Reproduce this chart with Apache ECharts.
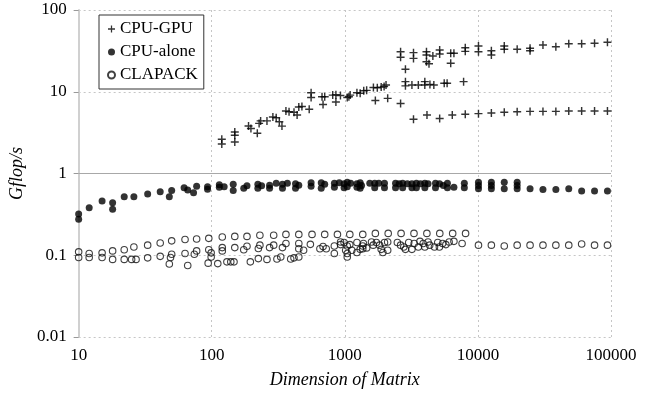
<!DOCTYPE html>
<html>
<head>
<meta charset="utf-8">
<script src="https://cdn.jsdelivr.net/npm/echarts@6/dist/echarts.min.js"></script>
<style>
  html, body { margin: 0; padding: 0; background: #fff; }
  #chart { width: 649px; height: 397px; }
</style>
</head>
<body>
<div id="chart"></div>
<script>
// Matrix dimension vs. performance (Gflop/s), log-log scatter.

const xTickLabels = ['10', '100', '1000', '10000', '100000'];
const yTickLabels = ['0.01', '0.1', '1', '10', '100'];

// CPU-GPU measurements
const gpuDim = [
  119, 119, 149, 149, 149, 189, 197, 220, 227, 233, 260, 288, 305, 322, 337,
  361, 381, 415, 438, 451, 476, 540, 558, 558, 674, 706, 686, 811, 857, 927,
  857, 1043, 1097, 1073, 1233, 1304, 1387, 1459, 1696, 1640, 1754, 1876, 1973,
  2040, 2099,
  2624, 2624, 2854, 3281, 3281, 4107, 4107, 4107, 4290, 4587, 5160, 5160,
  6246, 6603, 6246, 8035, 8035, 10097, 10097, 12622, 12622, 15777, 15777,
  19722, 24652, 24652, 30815, 38519, 48148, 60185, 75232, 94040,
  2624, 2854, 2854, 3193, 3567, 3991, 3991, 4360, 4665, 5583, 5870, 7806,
  3281, 4143, 5160, 6418, 8035, 10097, 12622, 15777, 19722, 24652, 30815,
  38519, 48148, 60185, 75232, 94040
];
const gpuRate = [
  2.62, 2.30, 3.22, 2.93, 2.43, 3.82, 3.55, 3.10, 4.10, 4.40, 4.40, 4.90, 4.80, 4.30, 3.80,
  5.80, 5.70, 5.60, 5.20, 6.50, 6.60, 6.10, 9.70, 8.50, 8.70, 8.70, 7.00, 9.10, 9.20, 9.00,
  7.50, 8.50, 9.10, 8.70, 9.70, 9.60, 10.3, 10.4, 7.80, 11.3, 11.2, 11.4, 11.6,
  12.1, 8.30,
  30.9, 26.4, 18.8, 30.1, 25.6, 30.9, 28.1, 23.3, 22.0, 27.4, 32.4, 29.0,
  29.5, 29.5, 22.3, 34.6, 31.2, 36.3, 30.9, 31.8, 28.1, 36.3, 33.1,
  33.1, 34.0, 31.8, 37.4, 35.6, 38.7, 38.7, 39.2, 40.3,
  7.2, 13.3, 11.8, 12.1, 12.1, 13.3, 12.1, 12.3, 12.1, 12.7, 12.7, 13.3,
  4.6, 5.2, 4.7, 5.2, 5.3, 5.4, 5.5, 5.6, 5.7, 5.75, 5.75,
  5.75, 5.8, 5.8, 5.8, 5.8
];

// CPU-alone measurements
const cpuDim = [
  10, 10, 12, 15, 18, 18, 22, 26, 33, 41, 48, 50, 62, 66, 73, 77,
  93, 93, 114, 114, 124, 145, 145, 174, 184, 222, 222, 237, 272, 272, 305,
  340, 340, 370, 426, 426, 451, 558, 558, 665, 665, 706, 835, 835, 908,
  987, 987, 1043, 1043, 1106, 1233, 1233, 1304, 1304, 1335, 1540, 1677, 1677,
  1800, 1986, 1986, 2405, 2405, 2560, 2720, 2720, 2950, 3193, 3193, 3450, 3450,
  3700, 3991, 3991, 4219, 4800, 4800, 5150, 5500, 5900, 5900, 6603, 7906, 7906,
  10097, 10097, 10097, 12622, 12622, 12622, 15777, 15777, 19722, 19722, 19722,
  24652, 30815, 38519, 48148, 60185, 75232, 94040
];
const cpuRate = [
  0.32, 0.275, 0.38, 0.46, 0.44, 0.365, 0.52, 0.52, 0.56, 0.60, 0.52, 0.62, 0.67, 0.63, 0.58, 0.70,
  0.69, 0.64, 0.73, 0.68, 0.69, 0.74, 0.62, 0.66, 0.71, 0.74, 0.66, 0.71, 0.72, 0.66, 0.76,
  0.74, 0.66, 0.76, 0.75, 0.66, 0.72, 0.77, 0.70, 0.77, 0.66, 0.74, 0.76, 0.68, 0.77,
  0.748, 0.668, 0.78, 0.69, 0.76, 0.75, 0.68, 0.77, 0.66, 0.713, 0.76, 0.76, 0.668,
  0.76, 0.76, 0.668, 0.76, 0.668, 0.748, 0.76, 0.668, 0.748, 0.748, 0.668, 0.76, 0.668,
  0.748, 0.76, 0.668, 0.748, 0.76, 0.668, 0.748, 0.713, 0.76, 0.668, 0.68, 0.76, 0.668,
  0.783, 0.713, 0.65, 0.783, 0.713, 0.65, 0.783, 0.65, 0.783, 0.713, 0.65,
  0.65, 0.637, 0.637, 0.65, 0.61, 0.61, 0.61
];

// CLAPACK measurements
const lapDim = [
  10, 10, 12, 12, 15, 15, 18, 18, 22, 22, 26, 25, 27, 33, 33, 41, 41,
  50, 50, 49, 48, 63, 63, 66, 77, 77, 74, 95, 95, 99, 99, 94, 111,
  120, 120, 120, 130, 139, 147, 149, 149, 174, 184, 184, 195, 224, 224,
  230, 230, 260, 272, 292, 292, 309, 330, 340, 361, 361, 392, 415, 451,
  451, 451, 451, 490, 551, 567, 650, 686, 725, 706, 834, 834, 880, 929, 929,
  1043, 1043, 1090, 1090, 1233, 1364, 1364, 1364,
  1696, 2118, 2647, 3309, 4136, 5170, 6462, 8078,
  987, 1043, 1015, 1129, 1233, 1304, 1380, 1459, 1587, 1634, 1726, 1826, 1876,
  1931, 1986, 2099, 2099, 2482, 2624, 2774, 2854, 3020, 3193, 3320, 3567, 3669,
  3881, 3991, 4219, 4342, 4716, 4990, 5135, 5430, 5745, 6078, 6603, 7606,
  10097, 12622, 15777, 19722, 24652, 30815, 38519, 48148, 60185, 75232, 94040
];
const lapRate = [
  0.110, 0.094, 0.105, 0.094, 0.107, 0.094, 0.113, 0.089, 0.117, 0.089, 0.126, 0.089, 0.089, 0.133, 0.093, 0.141, 0.097,
  0.150, 0.103, 0.094, 0.078, 0.156, 0.105, 0.075, 0.158, 0.113, 0.103, 0.161, 0.117, 0.107, 0.095, 0.080, 0.079,
  0.167, 0.124, 0.113, 0.083, 0.083, 0.083, 0.170, 0.124, 0.117, 0.170, 0.129, 0.083, 0.121, 0.091,
  0.176, 0.133, 0.089, 0.124, 0.176, 0.133, 0.090, 0.095, 0.124, 0.180, 0.139, 0.090, 0.093, 0.095,
  0.180, 0.139, 0.120, 0.115, 0.136, 0.180, 0.120, 0.128, 0.120, 0.180, 0.130, 0.105, 0.180, 0.145, 0.135,
  0.105, 0.095, 0.180, 0.135, 0.108, 0.180, 0.130, 0.120,
  0.185, 0.185, 0.185, 0.185, 0.185, 0.185, 0.185, 0.185,
  0.143, 0.130, 0.115, 0.115, 0.143, 0.118, 0.139, 0.123, 0.145, 0.133, 0.143, 0.133, 0.118,
  0.108, 0.143, 0.145, 0.115, 0.143, 0.133, 0.126, 0.118, 0.143, 0.118, 0.139, 0.126, 0.148,
  0.139, 0.126, 0.145, 0.133, 0.126, 0.143, 0.126, 0.139, 0.135, 0.145, 0.148, 0.139,
  0.133, 0.133, 0.130, 0.133, 0.133, 0.133, 0.133, 0.133, 0.137, 0.133, 0.133
];

const pairs = (xs, ys) => xs.map((x, i) => [x, ys[i]]);

const SERIF = '"Liberation Serif", "Times New Roman", serif';
const INK = '#000';
// plus-shaped marker with slightly heavy arms
const PLUS = 'path://M4.1,0h1.8v4.1h4.1v1.8h-4.1v4.1h-1.8v-4.1h-4.1v-1.8h4.1z';

function tickFormatter(labels) {
  return function (v) {
    for (const s of labels) {
      const n = Number(s);
      if (Math.abs(v - n) <= n * 1e-6) return s;
    }
    return '';
  };
}

const gridLine = { show: true, lineStyle: { color: '#c6c6c6', type: [2, 3], width: 1 } };

const chart = echarts.init(document.getElementById('chart'), null, { renderer: 'canvas' });

chart.setOption({
  animation: false,
  backgroundColor: '#fff',
  grid: { left: 63, right: 38, top: 10, bottom: 60 },
  legend: {
    orient: 'vertical',
    left: 99,
    top: 15,
    padding: [4, 6, 4, 8],
    itemGap: 3,
    itemWidth: 7,
    itemHeight: 7,
    borderColor: '#333',
    borderWidth: 1,
    backgroundColor: '#fff',
    textStyle: { fontFamily: SERIF, fontSize: 17, color: INK, lineHeight: 20 },
    data: [
      { name: 'CPU-GPU', icon: PLUS },
      { name: 'CPU-alone', icon: 'circle' },
      { name: 'CLAPACK', icon: 'circle' }
    ]
  },
  xAxis: {
    type: 'log',
    logBase: 10,
    min: 10,
    max: 100000,
    axisLine: { show: false },
    axisTick: { show: false },
    axisLabel: {
      margin: 10,
      fontFamily: SERIF,
      fontSize: 17,
      color: INK,
      formatter: tickFormatter(xTickLabels)
    },
    splitLine: gridLine,
    name: 'Dimension of Matrix',
    nameLocation: 'middle',
    nameGap: 34,
    nameTextStyle: { fontFamily: SERIF, fontStyle: 'italic', fontSize: 18, color: INK }
  },
  yAxis: {
    type: 'log',
    logBase: 10,
    min: 0.01,
    max: 100,
    axisLine: { show: true, lineStyle: { color: '#d0d0d0', width: 2 } },
    axisTick: { show: true, length: 5, lineStyle: { color: '#999' } },
    axisLabel: {
      margin: 12,
      fontFamily: SERIF,
      fontSize: 17,
      color: INK,
      formatter: tickFormatter(yTickLabels)
    },
    splitLine: gridLine,
    name: 'Gflop/s',
    nameLocation: 'middle',
    nameGap: 31,
    nameRotate: 90,
    nameTextStyle: { fontFamily: SERIF, fontStyle: 'italic', fontSize: 18, color: INK }
  },
  series: [
    {
      name: 'CPU-GPU',
      type: 'scatter',
      symbol: PLUS,
      symbolSize: 8,
      itemStyle: { color: '#000' },
      data: pairs(gpuDim, gpuRate),
      markLine: {
        silent: true,
        symbol: 'none',
        label: { show: false },
        lineStyle: { color: '#a8a8a8', type: 'solid', width: 1 },
        data: [{ yAxis: 1 }]
      },
      z: 3
    },
    {
      name: 'CPU-alone',
      type: 'scatter',
      symbol: 'circle',
      symbolSize: 7,
      itemStyle: { color: '#000' },
      data: pairs(cpuDim, cpuRate),
      z: 3
    },
    {
      name: 'CLAPACK',
      type: 'scatter',
      symbol: 'circle',
      symbolSize: 6.5,
      itemStyle: { color: 'rgba(255,255,255,0)', borderColor: '#111', borderWidth: 1.1 },
      data: pairs(lapDim, lapRate),
      z: 3
    }
  ]
});
</script>
</body>
</html>
